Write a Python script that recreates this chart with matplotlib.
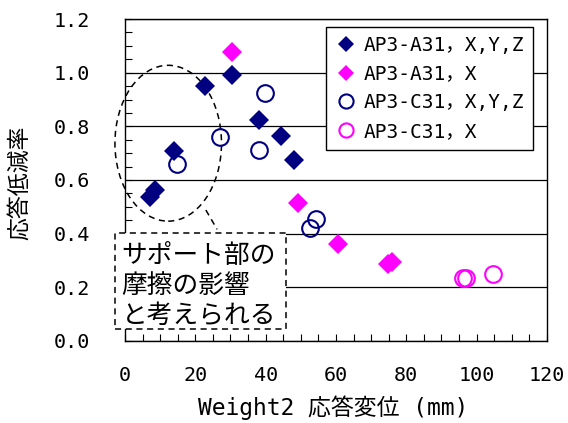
import matplotlib
matplotlib.use('Agg')
import matplotlib.pyplot as plt
from matplotlib.patches import Ellipse, Rectangle
from matplotlib.ticker import MultipleLocator

# === FONTS / TICKS ===
plt.rcParams['font.family'] = ['DejaVu Sans Mono', 'Noto Sans CJK JP']
plt.rcParams['xtick.major.pad'] = 18
plt.rcParams['ytick.major.pad'] = 25
plt.rcParams['xtick.direction'] = 'in'
plt.rcParams['ytick.direction'] = 'in'

# === DATA ===
# AP3-A31, X,Y,Z (navy diamonds)
a31_xyz_x = [7.1, 8.5, 13.9, 22.9, 30.5, 38.0, 44.4, 48.2]
a31_xyz_y = [0.537, 0.563, 0.709, 0.950, 0.990, 0.824, 0.765, 0.675]
# AP3-A31, X (magenta diamonds)
a31_x_x = [30.5, 49.2, 60.5, 74.9, 75.8]
a31_x_y = [1.076, 0.514, 0.360, 0.287, 0.296]
# AP3-C31, X,Y,Z (navy open circles)
c31_xyz_x = [14.7, 27.0, 39.8, 38.2, 54.3, 52.6]
c31_xyz_y = [0.659, 0.762, 0.923, 0.712, 0.454, 0.422]
# AP3-C31, X (magenta open circles)
c31_x_x = [97.0, 96.2, 104.7]
c31_x_y = [0.234, 0.236, 0.248]

labels = ['AP3-A31，X,Y,Z', 'AP3-A31，X', 'AP3-C31，X,Y,Z', 'AP3-C31，X']
note_text = 'サポート部の\n摩擦の影響\nと考えられる'

NAVY = '#000080'
MAGENTA = '#FF00FF'

# === FIGURE ===
fig = plt.figure(figsize=(5.68, 4.23), dpi=100)
ax = fig.add_axes([0.220, 0.194, 0.743, 0.761])

ax.plot(a31_xyz_x, a31_xyz_y, 'D', color=NAVY, markersize=10, markeredgewidth=0,
        label=labels[0], zorder=4)
ax.plot(a31_x_x, a31_x_y, 'D', color=MAGENTA, markersize=10, markeredgewidth=0,
        label=labels[1], zorder=4)
ax.plot(c31_xyz_x, c31_xyz_y, 'o', markerfacecolor='none', markeredgecolor=NAVY,
        markersize=12, markeredgewidth=1.5, label=labels[2], zorder=4)
ax.plot(c31_x_x, c31_x_y, 'o', markerfacecolor='none', markeredgecolor=MAGENTA,
        markersize=12, markeredgewidth=1.5, label=labels[3], zorder=4)

# === AXES ===
ax.set_xlim(0, 120)
ax.set_ylim(0, 1.2)
ax.xaxis.set_major_locator(MultipleLocator(20))
ax.xaxis.set_minor_locator(MultipleLocator(5))
ax.yaxis.set_major_locator(MultipleLocator(0.2))
ax.yaxis.set_minor_locator(MultipleLocator(0.05))
ax.yaxis.set_major_formatter(lambda v, p: f'{v:.1f}')
ax.yaxis.grid(True, which='major', color='black', linewidth=0.9)
ax.set_axisbelow(True)
for sp in ax.spines.values():
    sp.set_linewidth(1.0)

ax.set_xlabel('Weight2 応答変位 (mm)', fontsize=16.5)
ax.set_ylabel('応答低減率', fontsize=16.5)
ax.xaxis.set_label_coords(0.493, -0.17)
ax.yaxis.set_label_coords(-0.22, 0.49)

ax.tick_params(which='both', direction='in', length=5, width=0.8,
               top=False, right=False, labelsize=14.5)

# === LEGEND ===
leg = ax.legend(loc='upper right', fontsize=14, frameon=True, fancybox=False,
                edgecolor='black', framealpha=1, handlelength=1.2,
                handletextpad=0.3, labelspacing=0.5, borderpad=0.45,
                borderaxespad=0, markerscale=0.85, bbox_to_anchor=(0.967, 0.975))
leg.get_frame().set_linewidth(1.0)
leg.set_zorder(6)

# === ANNOTATION: dashed ellipse + note box ===
ell = Ellipse((12.3, 0.737), 30.3, 0.581, fill=False, edgecolor='black',
              linestyle=(0, (4, 3)), linewidth=1.1, clip_on=False, zorder=3)
ax.add_patch(ell)
ax.plot([23.0, 26.2], [0.488, 0.416], color='black', linestyle=(0, (4, 3)),
        linewidth=1.1, clip_on=False, zorder=3)
box = Rectangle((-2.84, 0.045), 48.6, 0.358, facecolor='white', edgecolor='black',
                linestyle=(0, (4, 3)), linewidth=1.1, clip_on=False, zorder=5)
ax.add_patch(box)
ax.text(-1.0, 0.205, note_text, fontsize=18.5, family='Noto Sans CJK JP',
        ha='left', va='center', linespacing=1.18, zorder=6)

fig.savefig('out.png', dpi=100)
